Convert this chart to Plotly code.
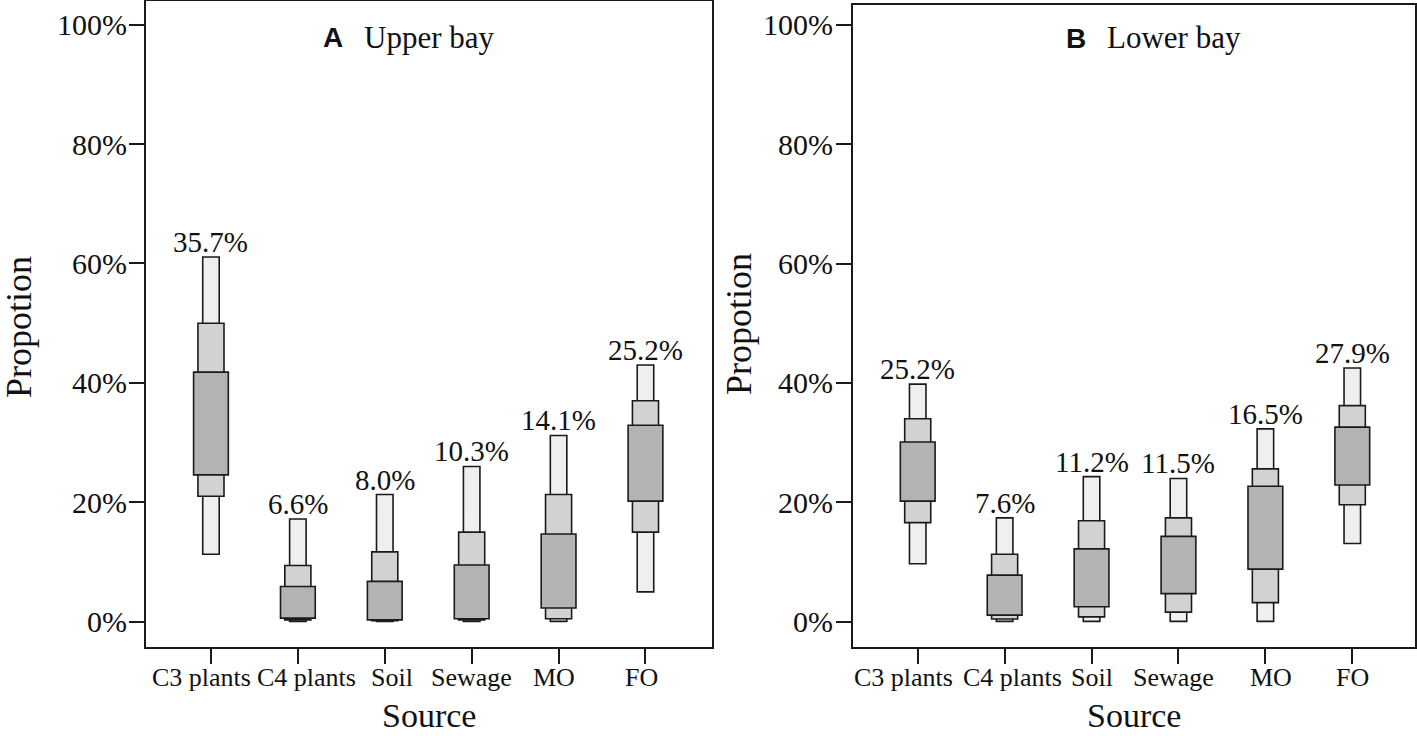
import plotly.graph_objects as go
from plotly.subplots import make_subplots

sources = ["C3 plants", "C4 plants", "Soil", "Sewage", "MO", "FO"]
pct_ticks = [0, 20, 40, 60, 80, 100]
pct_labels = ["0%", "20%", "40%", "60%", "80%", "100%"]

# Upper bay (panel A): credible intervals, percent
upper_outer_lo = [11.3, 0.05, 0.05, 0.05, 0.05, 5.0]
upper_outer_hi = [61.1, 17.2, 21.3, 26.0, 31.2, 43.0]
upper_mid_lo = [21.0, 0.3, 0.15, 0.3, 0.5, 15.0]
upper_mid_hi = [50.0, 9.4, 11.7, 15.0, 21.3, 37.0]
upper_inner_lo = [24.6, 0.6, 0.3, 0.5, 2.3, 20.2]
upper_inner_hi = [41.8, 5.9, 6.75, 9.5, 14.7, 32.9]
upper_mean = [35.7, 6.6, 8.0, 10.3, 14.1, 25.2]

# Lower bay (panel B)
lower_outer_lo = [9.7, 0.05, 0.05, 0.05, 0.05, 13.1]
lower_outer_hi = [39.8, 17.4, 24.3, 24.0, 32.3, 42.5]
lower_mid_lo = [16.6, 0.45, 0.8, 1.6, 3.2, 19.6]
lower_mid_hi = [34.0, 11.3, 16.9, 17.4, 25.6, 36.2]
lower_inner_lo = [20.2, 1.1, 2.5, 4.7, 8.8, 22.9]
lower_inner_hi = [30.1, 7.8, 12.2, 14.3, 22.7, 32.6]
lower_mean = [25.2, 7.6, 11.2, 11.5, 16.5, 27.9]

SERIF = "Liberation Serif"
W, H = 1417, 736

# horizontal nudges (px) of the category labels, as in the original layout
label_shift_a = [-9, 9, 7, 0, -5, -4]
label_shift_b = [-14, 8, 0, -5, 6, 0]

fig = make_subplots(rows=1, cols=2)

idx = list(range(len(sources)))
layers = [
    ("outer", 0.19, "#efefef"),
    ("mid", 0.30, "#d2d2d2"),
    ("inner", 0.40, "#b3b3b3"),
]

panels = [
    (1, {"outer": (upper_outer_lo, upper_outer_hi),
         "mid": (upper_mid_lo, upper_mid_hi),
         "inner": (upper_inner_lo, upper_inner_hi)}, upper_mean, upper_outer_hi, label_shift_a),
    (2, {"outer": (lower_outer_lo, lower_outer_hi),
         "mid": (lower_mid_lo, lower_mid_hi),
         "inner": (lower_inner_lo, lower_inner_hi)}, lower_mean, lower_outer_hi, label_shift_b),
]

for col, data, means, tops, shifts in panels:
    for name, w, color in layers:
        lo, hi = data[name]
        fig.add_trace(go.Bar(
            x=idx, y=[h - l for l, h in zip(lo, hi)], base=lo, width=w,
            marker=dict(color=color, line=dict(color="#1a1a1a", width=1.6)),
            showlegend=False, hoverinfo="skip",
        ), row=1, col=col)
    xref = "x" if col == 1 else "x2"
    yref = "y" if col == 1 else "y2"
    for i, (m, t) in enumerate(zip(means, tops)):
        fig.add_annotation(x=i, y=t, xref=xref, yref=yref, text=f"{m:.1f}%",
                           showarrow=False, yanchor="bottom", yshift=-3,
                           font=dict(family=SERIF, size=29, color="#111"))
    # category labels under the ticks
    for i, (s, dx) in enumerate(zip(sources, shifts)):
        fig.add_annotation(x=i, y=(H - 677) / H, xref=xref, yref="paper", text=s,
                           showarrow=False, xanchor="center", yanchor="middle", xshift=dx,
                           font=dict(family=SERIF, size=26, color="#111"))

axis_common = dict(showline=True, mirror=True, linecolor="#1a1a1a", linewidth=1.6,
                   ticks="outside", tickcolor="#1a1a1a", tickwidth=1.5, showgrid=False,
                   zeroline=False, automargin=False)
yfont = dict(family=SERIF, size=30, color="#111")

fig.update_layout(
    width=W, height=H, barmode="overlay", plot_bgcolor="white", paper_bgcolor="white",
    margin=dict(l=0, r=0, t=0, b=0),
    xaxis=dict(domain=[145.7 / W, 711.7 / W], range=[-0.751, 5.762], tickvals=idx,
               ticktext=[""] * len(idx), ticklen=15, **axis_common),
    xaxis2=dict(domain=[852.7 / W, 1414.7 / W], range=[-0.748, 5.718], tickvals=idx,
                ticktext=[""] * len(idx), ticklen=15, **axis_common),
    yaxis=dict(domain=[(H - 646.7) / H, (H - 1) / H], range=[-4.19, 103.97],
               tickvals=pct_ticks, ticktext=pct_labels, ticklen=15, tickfont=yfont,
               ticklabelstandoff=-4, **axis_common),
    yaxis2=dict(domain=[(H - 646.7) / H, (H - 4.5) / H], range=[-4.19, 103.4],
                tickvals=pct_ticks, ticktext=pct_labels, ticklen=15, tickfont=yfont,
                ticklabelstandoff=-3, **axis_common),
)

# panel titles
fig.add_annotation(x=333 / W, y=(H - 38) / H, xref="paper", yref="paper", text="<b>A</b>",
                   showarrow=False, xanchor="center", yanchor="middle",
                   font=dict(family="Liberation Sans", size=28, color="#111"))
fig.add_annotation(x=362 / W, y=(H - 37) / H, xref="paper", yref="paper", text="Upper bay",
                   showarrow=False, xanchor="left", yanchor="middle",
                   font=dict(family=SERIF, size=31, color="#111"))
fig.add_annotation(x=1076 / W, y=(H - 39) / H, xref="paper", yref="paper", text="<b>B</b>",
                   showarrow=False, xanchor="center", yanchor="middle",
                   font=dict(family="Liberation Sans", size=28, color="#111"))
fig.add_annotation(x=1105 / W, y=(H - 38) / H, xref="paper", yref="paper", text="Lower bay",
                   showarrow=False, xanchor="left", yanchor="middle",
                   font=dict(family=SERIF, size=31, color="#111"))

# axis titles
for xc, yc in [(19, 327), (739, 324)]:
    fig.add_annotation(x=xc / W, y=(H - yc) / H, xref="paper", yref="paper", text="Propotion",
                       showarrow=False, textangle=-90, xanchor="center", yanchor="middle",
                       font=dict(family=SERIF, size=36, color="#111"))
for xc in [(145.7 + 711.7) / 2, (852.7 + 1414.7) / 2]:
    fig.add_annotation(x=xc / W, y=(H - 715) / H, xref="paper", yref="paper", text="Source",
                       showarrow=False, xanchor="center", yanchor="middle",
                       font=dict(family=SERIF, size=34, color="#111"))

fig.write_html("out.html", config={"displayModeBar": False},
               post_script="document.body.style.margin='0px';")
